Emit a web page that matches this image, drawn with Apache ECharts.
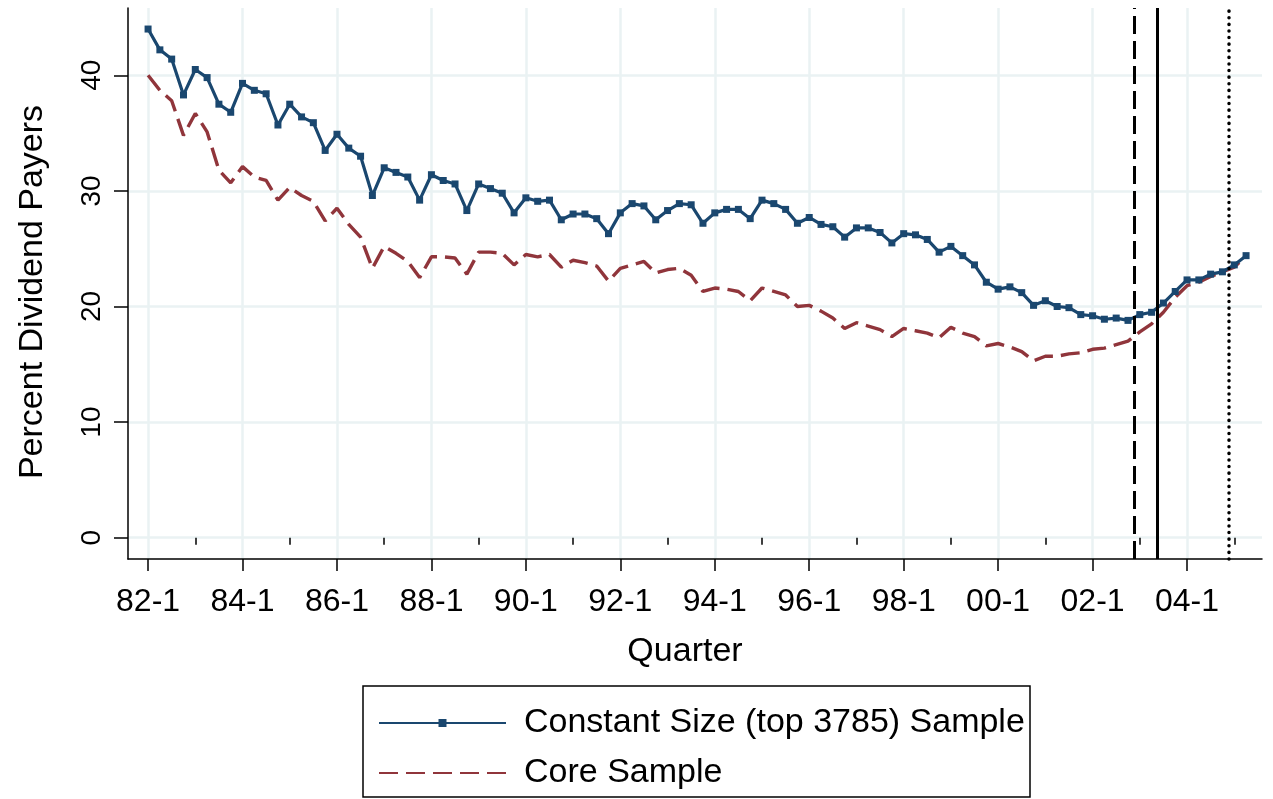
<!DOCTYPE html>
<html>
<head>
<meta charset="utf-8">
<title>Percent Dividend Payers</title>
<script src="https://cdn.jsdelivr.net/npm/echarts@6/dist/echarts.min.js"></script>
<style>
html,body{margin:0;padding:0;background:#fff;}
#chart{width:1273px;height:799px;}
</style>
</head>
<body>
<div id="chart"></div>
<script>
// quarterly values, 82-1 .. 05-2
var constantSize = [44.0,42.2,41.4,38.3,40.5,39.8,37.5,36.8,39.3,38.7,38.4,35.7,37.5,36.4,35.9,33.5,
  34.9,33.7,33.0,29.6,32.0,31.6,31.2,29.2,31.4,30.9,30.6,28.3,30.6,30.2,29.8,28.1,
  29.4,29.1,29.2,27.5,28.0,28.0,27.6,26.3,28.1,28.9,28.7,27.5,28.3,28.9,28.8,27.2,
  28.1,28.4,28.4,27.6,29.2,28.9,28.4,27.2,27.7,27.1,26.9,26.0,26.8,26.8,26.4,25.5,
  26.3,26.2,25.8,24.7,25.2,24.4,23.6,22.1,21.5,21.7,21.2,20.1,20.5,20.0,19.9,19.3,
  19.2,18.9,19.0,18.8,19.3,19.5,20.3,21.3,22.3,22.3,22.8,23.0,23.6,24.4];
var coreSample = [40.0,38.7,37.8,34.8,36.7,35.1,31.8,30.7,32.1,31.2,30.9,29.2,30.3,29.6,29.1,27.4,
  28.5,27.1,26.0,23.3,25.2,24.6,23.9,22.5,24.3,24.3,24.2,22.8,24.7,24.7,24.6,23.6,
  24.5,24.3,24.5,23.4,24.0,23.8,23.5,22.2,23.3,23.6,23.9,22.9,23.2,23.3,22.7,21.3,
  21.6,21.5,21.3,20.5,21.6,21.3,21.0,20.0,20.1,19.6,19.0,18.1,18.6,18.3,18.0,17.4,
  18.1,17.9,17.7,17.3,18.2,17.7,17.4,16.6,16.8,16.5,16.1,15.3,15.7,15.7,15.9,16.0,
  16.3,16.4,16.7,17.0,17.8,18.5,19.5,20.8,21.8,22.1,22.6,23.0,23.4,24.4];

var tickLabels = ['82-1','84-1','86-1','88-1','90-1','92-1','94-1','96-1','98-1','00-1','02-1','04-1'];
var tickPos = [0,8,16,24,32,40,48,56,64,72,80,88];
var minorPos = [4,12,20,28,36,44,52,60,68,76,84,92];
var yTicks = [0,10,20,30,40];
// vertical event lines, in quarter index
var lineDashed = 83.5, lineSolid = 85.5, lineDotted = 91.5;

var FONT = "'Liberation Sans',Arial,sans-serif";
var BLUE = '#1a476f', RED = '#90353b', GRID = '#eaf2f3';

var chart = echarts.init(document.getElementById('chart'));

var option = {
  backgroundColor: '#fff',
  animation: false,
  textStyle: {fontFamily: FONT},
  grid: {left: 128, top: 8, right: 11, bottom: 240},
  xAxis: [{
    type: 'value', min: -1.7, max: 94.35,
    axisLine: {show: true, onZero: false, lineStyle: {color: '#000', width: 1.5}},
    axisTick: {show: true, length: 12, customValues: tickPos, lineStyle: {color: '#000', width: 1.5}},
    axisLabel: {
      customValues: tickPos, margin: 27, color: '#000', fontSize: 32, fontFamily: FONT,
      formatter: function (v) { return tickLabels[tickPos.indexOf(Math.round(v))] || ''; }
    },
    splitLine: {show: true, lineStyle: {color: GRID, width: 2.5}}
  }, {
    type: 'value', min: -1.7, max: 94.35, position: 'bottom',
    axisLine: {show: false},
    axisTick: {show: true, length: 7, customValues: minorPos, lineStyle: {color: '#000', width: 1.5}},
    axisLabel: {show: false},
    splitLine: {show: false}
  }],
  yAxis: {
    type: 'value', min: -1.84, max: 45.82,
    axisLine: {show: true, onZero: false, lineStyle: {color: '#000', width: 1.5}},
    axisTick: {show: true, length: 14, customValues: yTicks, lineStyle: {color: '#000', width: 1.5}},
    axisLabel: {customValues: yTicks, rotate: 90, margin: 22, color: '#000', fontSize: 28, fontFamily: FONT},
    splitLine: {show: true, lineStyle: {color: GRID, width: 2.5}}
  },
  legend: {
    orient: 'vertical', left: 378, top: 698, padding: 0, itemGap: 0,
    itemWidth: 127, itemHeight: 10,
    textStyle: {fontSize: 34, lineHeight: 50, color: '#000', fontFamily: FONT, padding: [0, 0, 0, 13]},
    data: [
      {name: 'Constant Size (top 3785) Sample'},
      {name: 'Core Sample', itemStyle: {opacity: 0}}
    ]
  },
  graphic: [
    {type: 'rect', shape: {x: 363, y: 686, width: 667, height: 111},
     style: {fill: 'none', stroke: '#000', lineWidth: 1.5}},
    {type: 'text', x: 685, y: 652,
     style: {text: 'Quarter', fontSize: 34, fontFamily: FONT, fill: '#000', align: 'center', verticalAlign: 'middle'}},
    {type: 'text', x: 33, y: 292, rotation: Math.PI / 2,
     style: {text: 'Percent Dividend Payers', fontSize: 34, fontFamily: FONT, fill: '#000', align: 'center', verticalAlign: 'middle'}}
  ],
  series: [{
    name: 'Constant Size (top 3785) Sample',
    type: 'line',
    data: constantSize.map(function (v, i) { return [i, v]; }),
    symbol: 'rect', symbolSize: 7,
    itemStyle: {color: BLUE},
    lineStyle: {color: BLUE, width: 3.2},
    z: 3,
    markLine: {
      silent: true, symbol: 'none', label: {show: false},
      data: [
        {xAxis: lineDashed, lineStyle: {color: '#000', width: 3, type: [18, 7]}},
        {xAxis: lineSolid, lineStyle: {color: '#000', width: 3, type: 'solid'}},
        {xAxis: lineDotted, lineStyle: {color: '#000', width: 3.5, type: [0.1, 6.5], cap: 'round'}}
      ]
    }
  }, {
    name: 'Core Sample',
    type: 'line',
    data: coreSample.map(function (v, i) { return [i, v]; }),
    symbol: 'none',
    itemStyle: {color: RED},
    lineStyle: {color: RED, width: 3.4, type: [19, 8]},
    z: 2
  }]
};
chart.setOption(option);
</script>
</body>
</html>
